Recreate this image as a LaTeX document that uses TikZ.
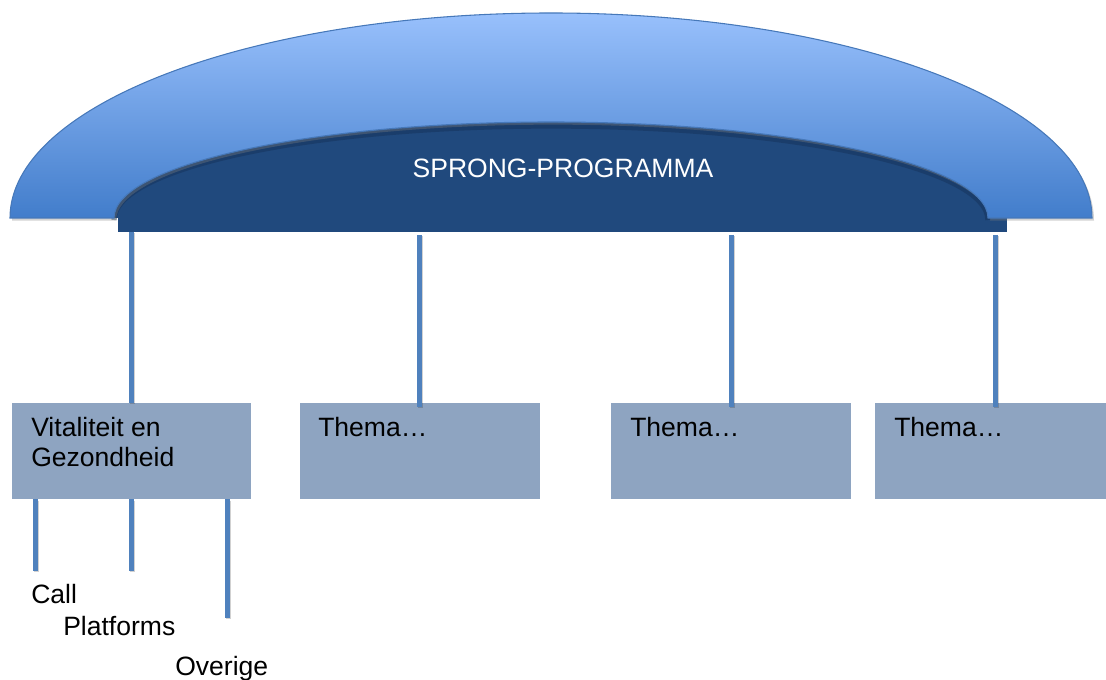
\documentclass[tikz,border=0pt]{standalone}
\usepackage{fontspec}
\setmainfont{Liberation Sans}
\usetikzlibrary{shadows}
\definecolor{archtop}{RGB}{152,192,252}
\definecolor{archbot}{RGB}{66,125,203}
\definecolor{archline}{RGB}{70,120,185}
\definecolor{darkprog}{RGB}{32,73,125}
\definecolor{darkseam}{RGB}{20,48,86}
\definecolor{boxfill}{RGB}{142,164,193}
\definecolor{conn}{RGB}{79,129,189}
\tikzset{
  txt/.style={font=\fontsize{19.9pt}{22.5pt}\selectfont, inner sep=0pt, text=black},
  themebox/.style={fill=boxfill, draw=none, minimum height=72pt, minimum width=180pt, inner sep=0pt},
  connector/.style={draw=conn, line width=3.75pt,
     preaction={draw=black, draw opacity=0.18, line width=3.75pt, transform canvas={shift={(0.9pt,-1pt)}}}},
}
\begin{document}
\begin{tikzpicture}[x=0.75pt,y=0.75pt]
\path[use as bounding box] (0,0) rectangle (1106,680);
% dark programme bar and dome
\node[fill=darkprog, minimum width=667pt, minimum height=10.5pt, inner sep=0pt] (bar) at (562.5,455) {};
\fill[darkprog] (114,462) arc[start angle=180,end angle=0,x radius=437,y radius=96] -- cycle;
\draw[darkseam, line width=4pt, opacity=0.45] (114,460) arc[start angle=180,end angle=0,x radius=437,y radius=94];
% light arch
\path[top color=archtop, bottom color=archbot, draw=archline, line width=0.8pt,
      drop shadow={shadow xshift=1.5pt, shadow yshift=-2pt, opacity=0.35}]
  (10,462) arc[start angle=180,end angle=0,x radius=541,y radius=205]
  -- (988,462) arc[start angle=0,end angle=180,x radius=437,y radius=96] -- cycle;
\node[txt, text=white, anchor=base] (title) at (563,502) {SPRONG-PROGRAMMA};
% theme boxes
\node[themebox, minimum width=179.25pt] (b1) at (131.5,229) {};
\node[themebox] (b2) at (419.5,229) {};
\node[themebox] (b3) at (731,229) {};
\node[themebox] (b4) at (995,229) {};
\node[txt, anchor=north west, align=left] (b1t) at (31,263) {Vitaliteit en\\Gezondheid};
\node[txt, anchor=north west] (b2t) at (318,263) {Thema…};
\node[txt, anchor=north west] (b3t) at (630,263) {Thema…};
\node[txt, anchor=north west] (b4t) at (894,263) {Thema…};
% connectors from programme
\coordinate (c1) at (131,448);
\coordinate (c2) at (419,445);
\coordinate (c3) at (731,445);
\coordinate (c4) at (995,445);
\draw[connector] (c1) -- (c1 |- b1.north);
\draw[connector, shorten >=-3pt] (c2) -- (c2 |- b2.north);
\draw[connector, shorten >=-3pt] (c3) -- (c3 |- b3.north);
\draw[connector, shorten >=-3pt] (c4) -- (c4 |- b4.north);
% sub connectors
\coordinate (s1) at (35,109);
\coordinate (s2) at (131,109);
\coordinate (s3) at (227,62);
\draw[connector] (s1 |- b1.south) -- (s1);
\draw[connector] (s2 |- b1.south) -- (s2);
\draw[connector] (s3 |- b1.south) -- (s3);
\node[txt, anchor=base west] (call) at (31,76) {Call};
\node[txt, anchor=base west] (plat) at (63,44) {Platforms};
\node[txt, anchor=base west] (over) at (175,4) {Overige};
\end{tikzpicture}
\end{document}
